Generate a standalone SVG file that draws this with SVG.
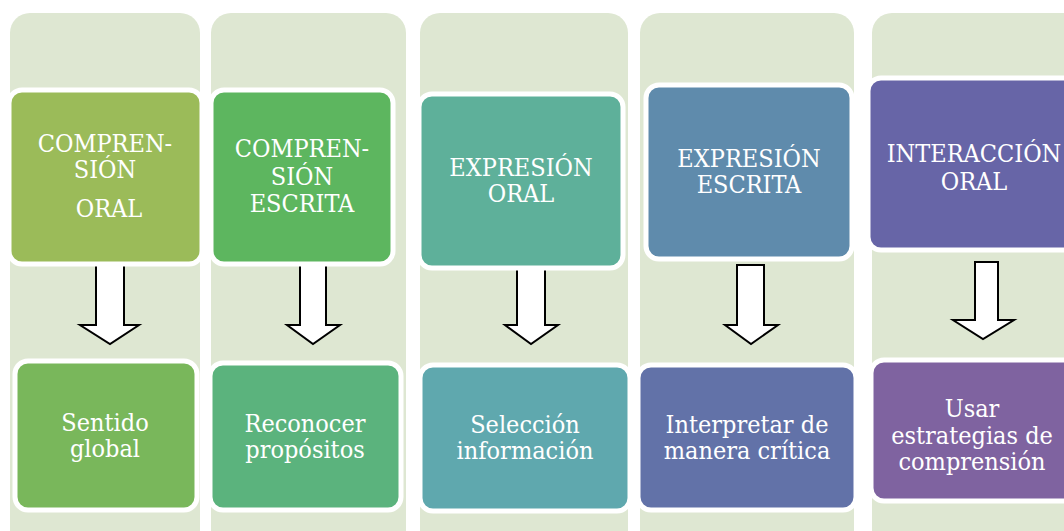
<svg xmlns="http://www.w3.org/2000/svg" width="1064" height="531" viewBox="0 0 1064 531">
<style>
.col{fill:#DEE7D2}
.node{stroke:#FFFFFF;stroke-width:5}
.t{font-family:"DejaVu Serif Condensed","DejaVu Serif","Liberation Serif",serif;font-stretch:condensed;font-size:25px;fill:#FFFFFF;text-anchor:middle}
.arr{fill:#FFFFFF;stroke:#000000;stroke-width:2;stroke-linejoin:miter}
</style>
<rect width="1064" height="531" fill="#FFFFFF"/>
<g id="columns">
<rect class="col" x="10" y="13" width="190" height="540" rx="20"/>
<rect class="col" x="211" y="13" width="195" height="540" rx="20"/>
<rect class="col" x="420" y="13" width="208" height="540" rx="20"/>
<rect class="col" x="640" y="13" width="214" height="540" rx="20"/>
<rect class="col" x="872" y="13" width="214" height="540" rx="20"/>
</g>
<g id="connectors">
<path class="arr" d="M96,265 H124 V325 H139 L110,344 L80,325 H96 Z"/>
<path class="arr" d="M300,265 H326 V325 H340 L313,344 L287,325 H300 Z"/>
<path class="arr" d="M517,265 H545 V325 H558 L531,344 L505,325 H517 Z"/>
<path class="arr" d="M737,265 H764 V325 H778 L751,344 L725,325 H737 Z"/>
<path class="arr" d="M975,262 H998 V320 H1014 L983,339 L953,320 H975 Z"/>
</g>
<g id="n1">
<rect class="node" x="9" y="90" width="193" height="174" rx="13" fill="#9BBB59"/>
<text class="t" x="105" y="152">COMPREN-</text>
<text class="t" x="105" y="178">SIÓN</text>
<text class="t" x="109" y="217">ORAL</text>
</g>
<g id="n2">
<rect class="node" x="211" y="90" width="182" height="174" rx="13" fill="#5DB65F"/>
<text class="t" x="302" y="157">COMPREN-</text>
<text class="t" x="302" y="185">SIÓN</text>
<text class="t" x="302" y="212">ESCRITA</text>
</g>
<g id="n3">
<rect class="node" x="419" y="94" width="204" height="174" rx="13" fill="#5EB09A"/>
<text class="t" x="521" y="176">EXPRESIÓN</text>
<text class="t" x="521" y="202">ORAL</text>
</g>
<g id="n4">
<rect class="node" x="646" y="85" width="206" height="174" rx="13" fill="#5F8BAC"/>
<text class="t" x="749" y="167">EXPRESIÓN</text>
<text class="t" x="749" y="193">ESCRITA</text>
</g>
<g id="n5">
<rect class="node" x="868" y="78" width="220" height="172" rx="13" fill="#6765A7"/>
<text class="t" x="974" y="162">INTERACCIÓN</text>
<text class="t" x="974" y="190">ORAL</text>
</g>
<g id="n6">
<rect class="node" x="15" y="361" width="182" height="149" rx="13" fill="#79B75B"/>
<text class="t" x="105" y="431">Sentido</text>
<text class="t" x="105" y="457">global</text>
</g>
<g id="n7">
<rect class="node" x="210" y="363" width="191" height="147" rx="13" fill="#5BB37D"/>
<text class="t" x="305" y="432">Reconocer</text>
<text class="t" x="305" y="458">propósitos</text>
</g>
<g id="n8">
<rect class="node" x="420" y="365" width="210" height="146" rx="13" fill="#5FA8AE"/>
<text class="t" x="525" y="433">Selección</text>
<text class="t" x="525" y="459">información</text>
</g>
<g id="n9">
<rect class="node" x="638" y="365" width="218" height="145" rx="13" fill="#6272A8"/>
<text class="t" x="747" y="433">Interpretar de</text>
<text class="t" x="747" y="459">manera crítica</text>
</g>
<g id="n10">
<rect class="node" x="871" y="360" width="215" height="141" rx="13" fill="#7F63A0"/>
<text class="t" x="972" y="417">Usar</text>
<text class="t" x="972" y="444">estrategias de</text>
<text class="t" x="972" y="470">comprensión</text>
</g>
</svg>
